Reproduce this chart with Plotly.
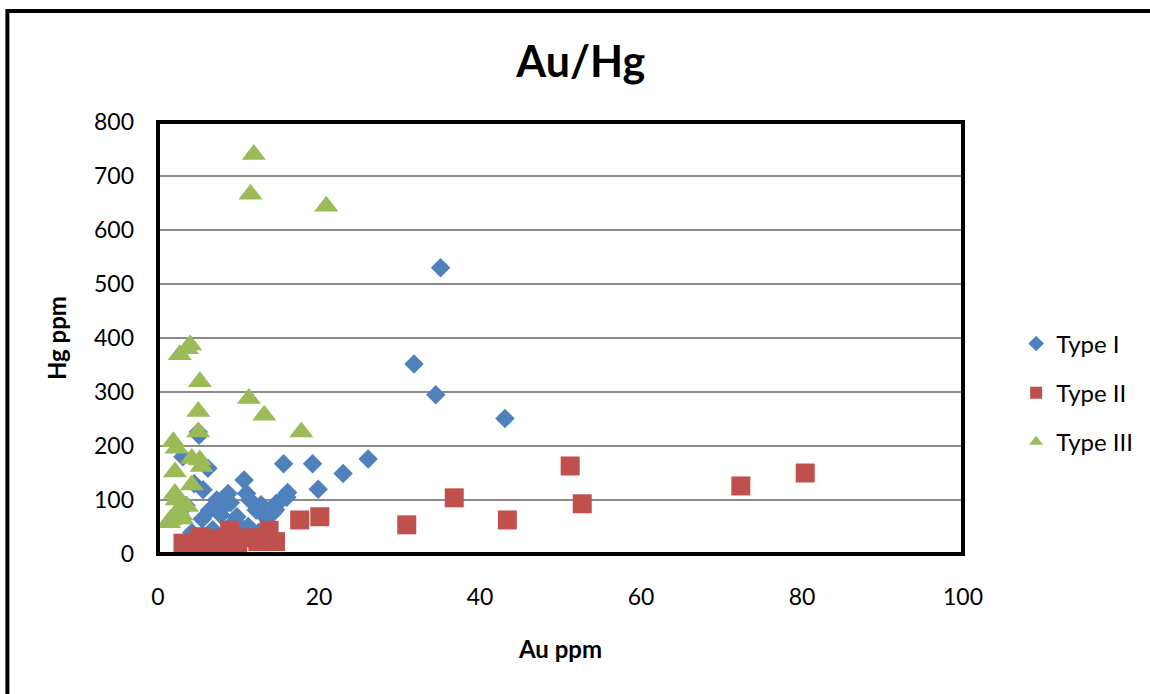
import plotly.graph_objects as go

# ---- data ----
type1_au = [35.1, 31.8, 34.5, 43.1, 26.1, 23.0, 19.2, 15.6, 19.9, 16.1, 10.7, 5.0, 5.1, 3.1,
            6.2, 5.6, 11.0, 8.7, 12.8, 14.7, 11.4, 7.3, 6.4, 9.8, 12.2, 11.2, 13.3, 11.4,
            3.1, 4.2, 8.0, 9.5, 14.2, 15.3, 6.8, 4.5, 3.5, 10.3, 7.8, 16.0, 14.6, 9.0, 5.5, 12.5]
type1_hg = [530, 352, 295, 251, 176, 149, 167, 167, 120, 114, 137, 226, 220, 180,
            159, 119, 112, 112, 91, 94, 100, 100, 81, 69, 81, 51, 69, 32,
            3, 40, 85, 60, 75, 100, 45, 130, 90, 50, 72, 105, 82, 95, 65, 40]

type2_au = [80.4, 72.4, 51.2, 52.7, 36.8, 43.4, 30.9, 20.1, 17.6, 13.8, 14.6, 12.4,
            3.1, 4.4, 5.6, 7.3, 8.9, 8.7, 9.8, 9.9, 6.4, 5.2, 3.5, 11.5]
type2_hg = [150, 126, 163, 93, 104, 63, 54, 69, 63, 44, 23, 23,
            20, 14, 23, 29, 44, 20, 29, 14, 10, 32, 12, 30]

type3_au = [11.9, 11.5, 20.9, 4.0, 3.6, 2.7, 5.2, 11.3, 13.2, 17.8, 5.0, 5.0, 1.9, 2.3,
            4.2, 5.2, 5.4, 2.1, 4.2, 2.1, 2.3, 2.5, 1.5, 3.6, 2.9, 1.4, 3.0]
type3_hg = [740, 666, 644, 387, 380, 369, 319, 288, 257, 226, 264, 226, 208, 196,
            177, 174, 162, 152, 128, 112, 100, 81, 63, 88, 72, 58, 65]

series_names = ["Type I", "Type II", "Type III"]
x_ticks = [0, 20, 40, 60, 80, 100]
y_ticks = [0, 100, 200, 300, 400, 500, 600, 700, 800]

FONT = "Lato"

fig = go.Figure()
fig.add_trace(go.Scatter(x=type1_au, y=type1_hg, mode="markers", name=series_names[0],
                         legendgroup="g1",
                         marker=dict(symbol="diamond", size=15, color="#4F81BD",
                                     line=dict(width=0))))
fig.add_trace(go.Scatter(x=type2_au, y=type2_hg, mode="markers", name=series_names[1],
                         legendgroup="g2",
                         marker=dict(symbol="square", size=19, color="#C0504D",
                                     line=dict(width=0))))
fig.add_trace(go.Scatter(x=type3_au, y=type3_hg, mode="markers", name=series_names[2],
                         legendgroup="g3",
                         marker=dict(symbol="triangle-up", size=21, color="#9BBB59",
                                     line=dict(width=0))))

fig.update_layout(
    width=1150, height=694,
    margin=dict(l=158, r=185, t=122, b=140),
    paper_bgcolor="white", plot_bgcolor="white",
    font=dict(family=FONT, color="black", size=23),
    title=dict(text="<b>Au/Hg</b>", x=0.505, xref="container", xanchor="center",
               y=1 - 62 / 694, yref="container", yanchor="middle",
               font=dict(family=FONT, size=43, color="black")),
    showlegend=True,
    legend=dict(x=1.066, xanchor="left", y=0.373, yanchor="middle",
                font=dict(family=FONT, size=24), tracegroupgap=15,
                bgcolor="rgba(0,0,0,0)", itemsizing="constant"),
    xaxis=dict(range=[0, 100], tickvals=x_ticks, showgrid=False, zeroline=False,
               showline=False, ticks="", ticklabelstandoff=27,
               tickfont=dict(family=FONT, size=23),
               title=dict(text="<b>Au ppm</b>", font=dict(family=FONT, size=24),
                          standoff=32)),
    yaxis=dict(range=[0, 800], tickvals=y_ticks, showgrid=True, gridcolor="#8C8C8C",
               gridwidth=2, zeroline=False, showline=False, ticks="",
               ticklabelstandoff=23, tickfont=dict(family=FONT, size=23),
               title=dict(text="<b>Hg ppm</b>", font=dict(family=FONT, size=24),
                          standoff=20)),
    shapes=[
        # plot-area frame
        dict(type="rect", xref="paper", yref="paper", x0=0, y0=0, x1=1, y1=1,
             line=dict(color="black", width=4), layer="above"),
        # outer chart frame (extends past the right and bottom edges)
        dict(type="rect", xref="paper", yref="paper",
             x0=(7 - 158) / 807, y0=-0.5, x1=1.4, y1=(554 - 11) / 432,
             line=dict(color="black", width=4)),
    ],
)

fig.write_html("out.html")
